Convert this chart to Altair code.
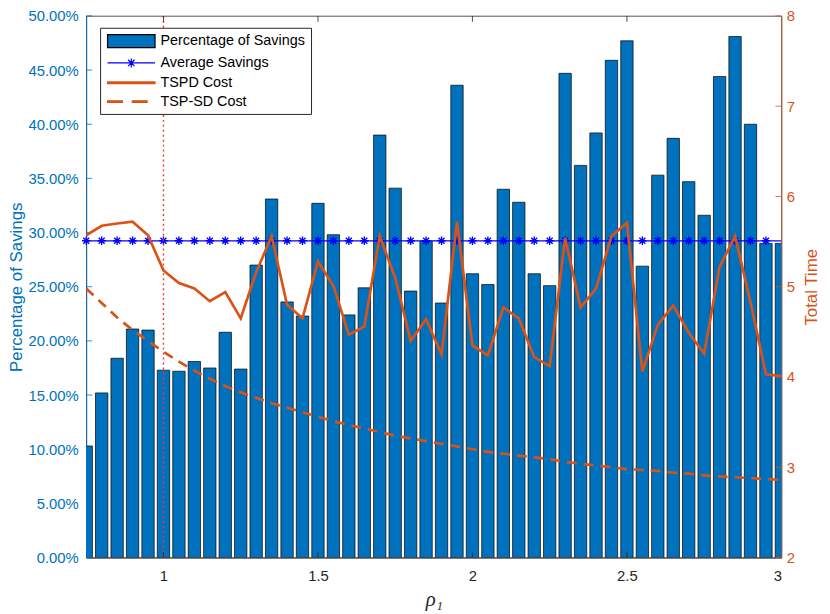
import altair as alt
import pandas as pd

# ---------------- data ----------------
rho = [0.75, 0.80, 0.85, 0.90, 0.95, 1.00, 1.05, 1.10, 1.15, 1.20, 1.25, 1.30,
       1.35, 1.40, 1.45, 1.50, 1.55, 1.60, 1.65, 1.70, 1.75, 1.80, 1.85, 1.90,
       1.95, 2.00, 2.05, 2.10, 2.15, 2.20, 2.25, 2.30, 2.35, 2.40, 2.45, 2.50,
       2.55, 2.60, 2.65, 2.70, 2.75, 2.80, 2.85, 2.90, 2.95, 3.00]

savings_pct = [10.3, 15.2, 18.4, 21.1, 21.0, 17.3, 17.2, 18.1, 17.5, 20.8, 17.4, 27.0,
               33.1, 23.6, 22.3, 32.7, 29.8, 22.4, 24.9, 39.0, 34.1, 24.6, 29.2, 23.5,
               43.6, 26.2, 25.2, 34.0, 32.8, 26.2, 25.1, 44.7, 36.2, 39.2, 45.9, 47.7,
               26.9, 35.3, 38.7, 34.7, 31.6, 44.4, 48.1, 40.0, 29.0, 29.0]

tspd_cost = [5.57, 5.675, 5.70, 5.72, 5.57, 5.18, 5.04, 4.98, 4.84, 4.94, 4.65, 5.16,
             5.56, 4.80, 4.65, 5.28, 5.01, 4.47, 4.56, 5.56, 5.10, 4.40, 4.64, 4.25,
             5.72, 4.35, 4.24, 4.77, 4.65, 4.22, 4.12, 5.54, 4.77, 4.98, 5.56, 5.71,
             4.06, 4.58, 4.79, 4.49, 4.26, 5.22, 5.56, 4.83, 4.03, 4.01]

tspsd_cost = [4.98, 4.82, 4.66, 4.52, 4.40, 4.28, 4.17, 4.07, 3.98, 3.90, 3.83, 3.77,
              3.71, 3.66, 3.61, 3.56, 3.51, 3.47, 3.43, 3.39, 3.35, 3.32, 3.29, 3.26,
              3.23, 3.20, 3.17, 3.15, 3.13, 3.11, 3.09, 3.06, 3.04, 3.02, 3.00, 2.98,
              2.97, 2.96, 2.94, 2.93, 2.91, 2.90, 2.89, 2.88, 2.87, 2.86]

avg_savings_pct = 29.24
ref_rho = [1.0]

left_ticks_pct = [0, 5, 10, 15, 20, 25, 30, 35, 40, 45, 50]
right_ticks = [2, 3, 4, 5, 6, 7, 8]
x_ticks = [1, 1.5, 2, 2.5, 3]
legend_labels = ["Percentage of Savings", "Average Savings", "TSPD Cost", "TSP-SD Cost"]

# ---------------- styling ----------------
BLUE = "#0072BD"
ORANGE = "#D95319"
DARK = "#262626"
FONT = "Liberation Sans"
W, H = 702, 547
TICK = 6
BAR_HALF = 0.02
LBL = 15

STAR = "M-1,0H1M0,-1V1M-0.71,-0.71L0.71,0.71M-0.71,0.71L0.71,-0.71"
# legend symbols: symbolSize 169 -> 1 unit = 6.5px; symbols span 48px
LEG_RECT = "M-0.92,-1H6.46V1H-0.92Z"
LEG_STARLINE = ("M-0.92,0H6.46M2.07,0H3.47M2.77,-0.7V0.7"
                "M2.27,-0.5L3.27,0.5M2.27,0.5L3.27,-0.5")
LEG_SOLID = "M-0.92,-0.13H6.46V0.13H-0.92Z"
LEG_DASH = "M-0.92,-0.13H1.39V0.13H-0.92ZM2.93,-0.13H5.23V0.13H2.93Z"

df = pd.DataFrame({
    "rho": rho,
    "savings": [v / 100 for v in savings_pct],
    "tspd": tspd_cost,
    "tspsd": tspsd_cost,
})
df["avg"] = avg_savings_pct / 100

xscale = alt.Scale(domain=[0.75, 3.0], nice=False, zero=False)
yl = alt.Scale(domain=[0, 0.5], nice=False, zero=True)
yr = alt.Scale(domain=[2, 8], nice=False, zero=False)

base = alt.Chart(df)

bars = base.transform_calculate(
    x0=f"datum.rho - {BAR_HALF}", x1=f"datum.rho + {BAR_HALF}"
).mark_bar(color=BLUE, stroke="black", strokeWidth=0.7, clip=True).encode(
    x=alt.X("x0:Q", scale=xscale,
            axis=alt.Axis(values=x_ticks, format="~g", title="ρ₁", tickSize=0,
                          grid=False, labelFont=FONT, labelFontSize=LBL,
                          labelColor=DARK, labelPadding=11, domainColor=DARK,
                          domainWidth=0.8, titleFont="Liberation Serif",
                          titleFontStyle="italic", titleFontWeight="normal",
                          titleFontSize=21, titleColor=DARK, titlePadding=5)),
    x2="x1:Q",
    y=alt.Y("savings:Q", scale=yl,
            axis=alt.Axis(orient="left", values=[t / 100 for t in left_ticks_pct],
                          format=".2%", title="Percentage of Savings", tickSize=0,
                          grid=False, labelFont=FONT, labelFontSize=LBL,
                          labelColor=BLUE, labelPadding=8, domainColor=BLUE,
                          domainWidth=0.9, titleFont=FONT, titleFontSize=17,
                          titleFontWeight="normal", titleColor=BLUE, titlePadding=2)),
    y2=alt.datum(0),
)

avg_line = base.mark_line(color="blue", strokeWidth=1.3, clip=True).encode(
    x=alt.X("rho:Q", scale=xscale),
    y=alt.Y("avg:Q", scale=yl, axis=None),
)

avg_pts = base.transform_filter("datum.rho < 2.99").mark_point(
    shape=STAR, size=72, color="blue", filled=False, strokeWidth=1.4, opacity=1
).encode(
    x=alt.X("rho:Q", scale=xscale),
    y=alt.Y("avg:Q", scale=yl, axis=None),
)

ref_line = alt.Chart(pd.DataFrame({"rho": ref_rho})).mark_rule(
    color="#FF3030", strokeDash=[2, 3], strokeWidth=1.4, opacity=1
).encode(x=alt.X("rho:Q", scale=xscale))

left_ticks = alt.Chart(pd.DataFrame({"v": [t / 100 for t in left_ticks_pct]})).mark_rule(
    color=BLUE, strokeWidth=0.8
).encode(y=alt.Y("v:Q", scale=yl, axis=None), x=alt.value(0), x2=alt.value(TICK))

xt = pd.DataFrame({"rho": x_ticks[:-1]})
bottom_ticks = alt.Chart(xt).mark_rule(color=DARK, strokeWidth=0.8).encode(
    x=alt.X("rho:Q", scale=xscale), y=alt.value(H), y2=alt.value(H - TICK))
top_ticks = alt.Chart(xt).mark_rule(color=DARK, strokeWidth=0.8).encode(
    x=alt.X("rho:Q", scale=xscale), y=alt.value(0), y2=alt.value(TICK))

leg = alt.Legend(title=None, orient="none", legendX=14, legendY=12,
                 fillColor="white", strokeColor=DARK, padding=6,
                 labelFont=FONT, labelFontSize=14.5, labelColor="black",
                 symbolSize=169, symbolStrokeWidth=1.2, labelOffset=40,
                 rowPadding=4)

legend_layer = alt.Chart(pd.DataFrame({
    "series": legend_labels, "rho": [0.75] * 4, "v": [-1.0] * 4
})).mark_point(clip=True, opacity=1, filled=True).encode(
    x=alt.X("rho:Q", scale=xscale),
    y=alt.Y("v:Q", scale=yl, axis=None),
    shape=alt.Shape("series:N", scale=alt.Scale(
        domain=legend_labels, range=[LEG_RECT, LEG_STARLINE, LEG_SOLID, LEG_DASH]),
        legend=leg),
    fill=alt.Fill("series:N", scale=alt.Scale(
        domain=legend_labels, range=[BLUE, "transparent", ORANGE, ORANGE]),
        legend=leg),
    stroke=alt.Stroke("series:N", scale=alt.Scale(
        domain=legend_labels, range=["black", "blue", ORANGE, ORANGE]),
        legend=leg),
)

tspd = base.mark_line(color=ORANGE, strokeWidth=2.7, clip=True).encode(
    x=alt.X("rho:Q", scale=xscale),
    y=alt.Y("tspd:Q", scale=yr,
            axis=alt.Axis(orient="right", values=right_ticks, title="Total Time",
                          tickSize=0, grid=False, labelFont=FONT, labelFontSize=LBL,
                          labelColor=ORANGE, labelPadding=5, domainColor=ORANGE,
                          domainWidth=0.9, domainOpacity=0.75, titleFont=FONT,
                          titleFontSize=17, titleFontWeight="normal",
                          titleColor=ORANGE, titleAngle=270, titleX=30,
                          titleBaseline="middle", titleAlign="center")),
)

tspsd = base.mark_line(color=ORANGE, strokeWidth=2.7, strokeDash=[10, 7], clip=True).encode(
    x=alt.X("rho:Q", scale=xscale),
    y=alt.Y("tspsd:Q", scale=yr, axis=None),
)

right_tick_marks = alt.Chart(pd.DataFrame({"v": right_ticks})).mark_rule(
    color=ORANGE, strokeWidth=0.8
).encode(y=alt.Y("v:Q", scale=yr, axis=None), x=alt.value(W - TICK), x2=alt.value(W))

chart = alt.layer(
    bars, avg_line, avg_pts, ref_line, left_ticks, bottom_ticks, top_ticks,
    tspd, tspsd, right_tick_marks, legend_layer
).resolve_scale(
    y="independent"
).properties(
    width=W, height=H,
    autosize=alt.AutoSizeParams(type="none"),
    padding={"left": 79, "top": 5, "right": 41, "bottom": 54},
).configure(
    background="white"
).configure_view(
    stroke=DARK, strokeWidth=0.8
)

chart.save("out.html", embed_options={"renderer": "svg", "actions": False})
